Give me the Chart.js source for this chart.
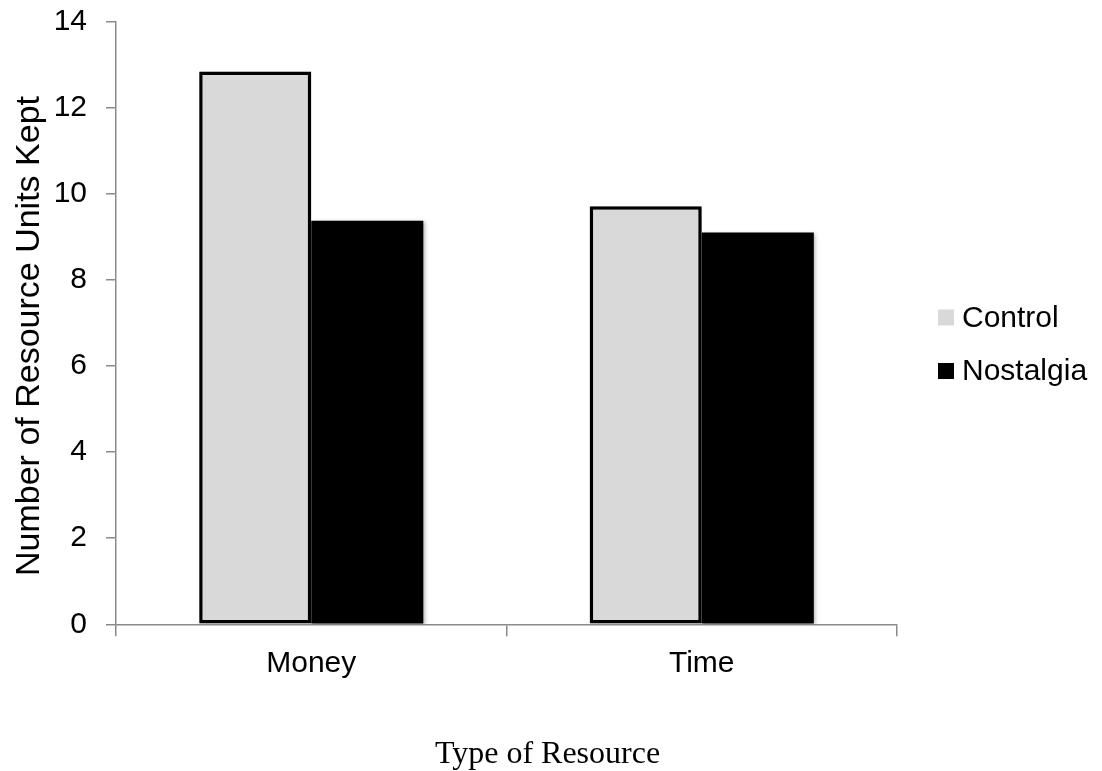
<!DOCTYPE html>
<html>
<head>
<meta charset="utf-8">
<script src="https://cdn.jsdelivr.net/npm/chart.js@4.4.1/dist/chart.umd.min.js"></script>
<style>
  html, body { margin: 0; padding: 0; background: #ffffff; }
  #wrap { width: 1102px; height: 771px; position: relative; }
</style>
</head>
<body>
<div id="wrap"><canvas id="chart" width="1102" height="771"></canvas></div>
<script>
// Resource types on the x axis
const categories = ['Money', 'Time'];
// Mean number of resource units kept, per condition
const controlValues = [12.84, 9.71];
const nostalgiaValues = [9.37, 9.10];
const seriesNames = ['Control', 'Nostalgia'];
// Y axis range and step
const yMin = 0;
const yMax = 14;
const yStep = 2;
const yTitle = 'Number of Resource Units Kept';
const xTitle = 'Type of Resource';

const SANS = '"Liberation Sans", Arial, Helvetica, sans-serif';
const SERIF = '"Liberation Serif", "Times New Roman", serif';
const AXIS_GREY = '#8a8a8a';

// Soft drop shadow behind the bars
const barShadow = {
  id: 'barShadow',
  beforeDatasetsDraw(chart) {
    const ctx = chart.ctx;
    ctx.save();
    ctx.shadowColor = 'rgba(0,0,0,0.30)';
    ctx.shadowBlur = 4;
    ctx.shadowOffsetX = 1.5;
    ctx.shadowOffsetY = 1.5;
  },
  afterDatasetsDraw(chart) {
    chart.ctx.restore();
  }
};

// Axis titles and the legend on the right
const annotations = {
  id: 'annotations',
  afterDraw(chart) {
    const ctx = chart.ctx;
    ctx.save();
    ctx.fillStyle = '#000';

    // vertical axis title
    ctx.save();
    ctx.translate(29.5, 336);
    ctx.rotate(-Math.PI / 2);
    ctx.font = '34px ' + SANS;
    ctx.textAlign = 'center';
    ctx.textBaseline = 'middle';
    ctx.fillText(yTitle, 0, 0);
    ctx.restore();

    // horizontal axis title
    ctx.font = '32px ' + SERIF;
    ctx.textAlign = 'center';
    ctx.textBaseline = 'alphabetic';
    ctx.fillText(xTitle, 547.5, 762.5);

    // legend
    const rows = [317.5, 371];
    ctx.font = '30px ' + SANS;
    ctx.textAlign = 'left';
    ctx.textBaseline = 'middle';
    chart.data.datasets.forEach((ds, i) => {
      const cy = rows[i];
      ctx.fillStyle = ds.backgroundColor;
      ctx.fillRect(938, cy - 8, 16, 16);
      ctx.fillStyle = '#000';
      ctx.fillText(ds.label, 962, cy + 1);
    });
    ctx.restore();
  }
};

new Chart(document.getElementById('chart'), {
  type: 'bar',
  data: {
    labels: categories,
    datasets: [
      {
        label: seriesNames[0],
        data: controlValues,
        backgroundColor: '#d9d9d9',
        borderColor: '#000000',
        borderWidth: 3.5,
        borderSkipped: false
      },
      {
        label: seriesNames[1],
        data: nostalgiaValues,
        backgroundColor: '#000000',
        borderWidth: 0
      }
    ]
  },
  options: {
    responsive: false,
    animation: false,
    devicePixelRatio: 1,
    layout: { padding: { top: 21.5, right: 205, bottom: 0, left: 0 } },
    datasets: {
      bar: { categoryPercentage: 0.574, barPercentage: 1.0 }
    },
    plugins: {
      legend: { display: false },
      tooltip: { enabled: false },
      title: { display: false }
    },
    scales: {
      x: {
        offset: true,
        grid: {
          display: true,
          offset: true,
          drawOnChartArea: false,
          drawTicks: true,
          tickLength: 12,
          color: AXIS_GREY,
          lineWidth: 1.5
        },
        border: { display: true, color: AXIS_GREY, width: 1.5 },
        ticks: {
          color: '#000',
          font: { family: SANS, size: 30 },
          padding: 9
        },
        afterFit(scale) { scale.height = 771 - 624.3; }
      },
      y: {
        min: yMin,
        max: yMax,
        grid: {
          display: true,
          drawOnChartArea: false,
          drawTicks: true,
          tickLength: 10,
          color: AXIS_GREY,
          lineWidth: 1.5
        },
        border: { display: true, color: AXIS_GREY, width: 1.5 },
        ticks: {
          stepSize: yStep,
          color: '#000',
          font: { family: SANS, size: 30 },
          padding: 19
        },
        afterFit(scale) {
          scale.width = 116;
          scale.paddingTop = 0;
          scale.paddingBottom = 0;
        }
      }
    }
  },
  plugins: [barShadow, annotations]
});
</script>
</body>
</html>
